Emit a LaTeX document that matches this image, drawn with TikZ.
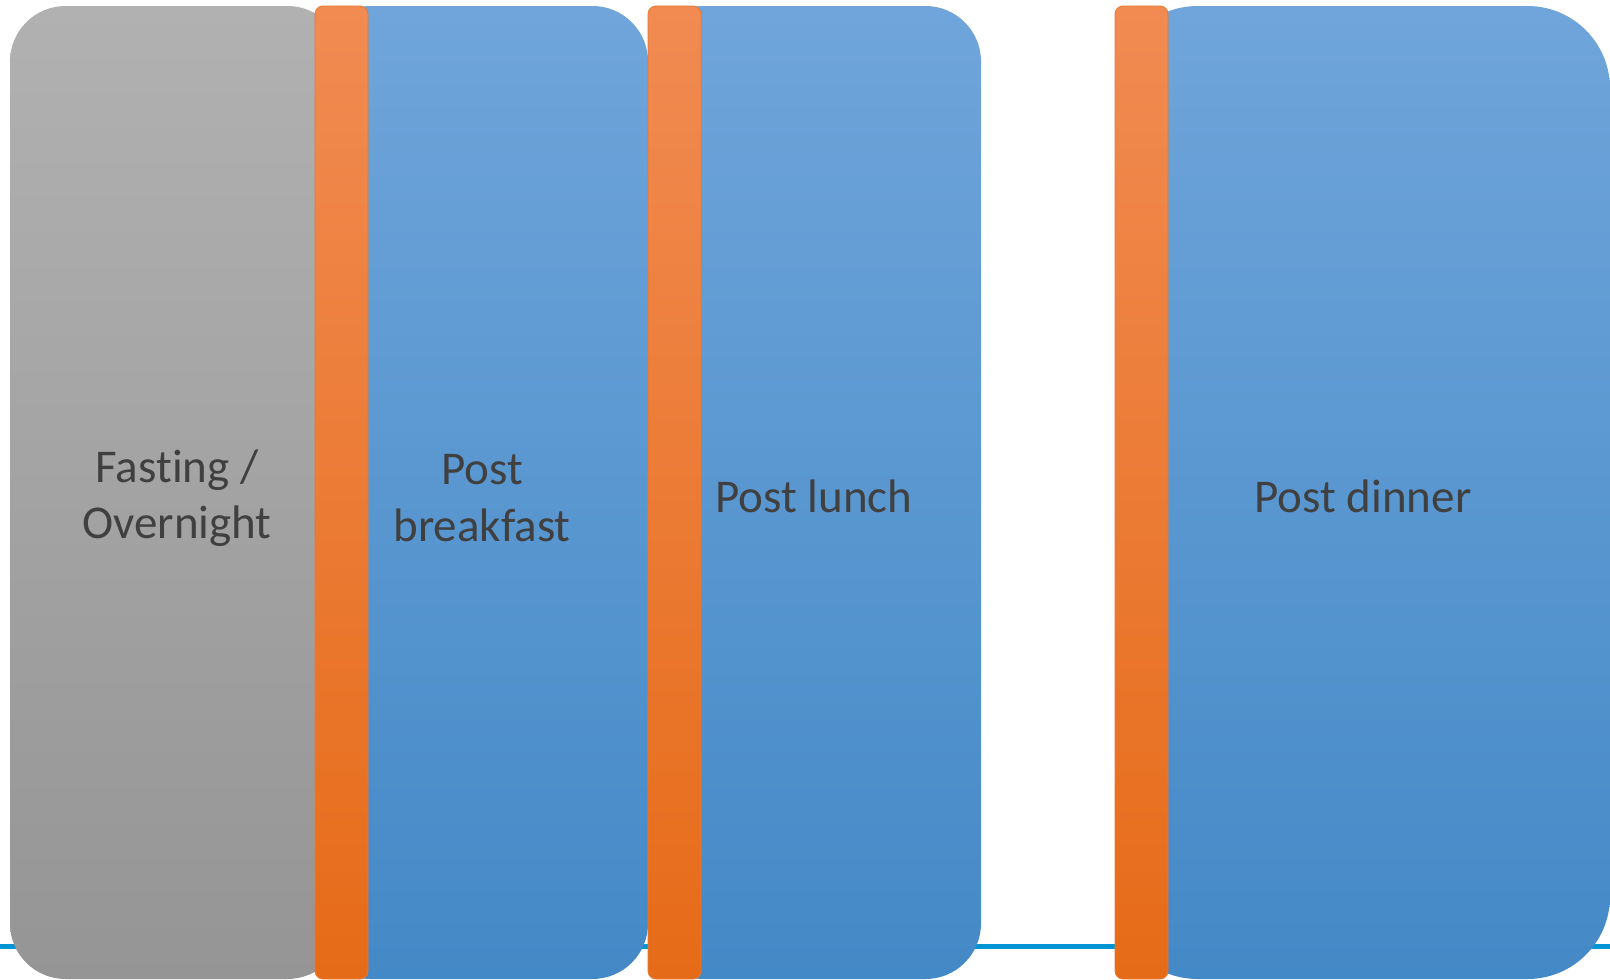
\documentclass[tikz,border=0pt]{standalone}
\usepackage{fontspec}
\setmainfont{Carlito}[Ligatures={NoCommon}]
\definecolor{graytop}{RGB}{177,177,177}
\definecolor{graybot}{RGB}{149,149,149}
\definecolor{bluetop}{RGB}{111,165,218}
\definecolor{bluebot}{RGB}{68,137,199}
\definecolor{orangetop}{RGB}{241,139,82}
\definecolor{orangebot}{RGB}{230,107,24}
\definecolor{orangeedge}{RGB}{232,120,50}
\definecolor{lineblue}{RGB}{0,150,214}
\definecolor{txt}{RGB}{64,64,64}
\tikzset{
  graybox/.style={top color=graytop, bottom color=graybot, draw=none},
  bluebox/.style={top color=bluetop, bottom color=bluebot, draw=none},
  orangebar/.style={top color=orangetop, bottom color=orangebot, draw=orangeedge, line width=0.8pt, rounded corners=8pt},
  label/.style={text=txt, font=\fontsize{47}{56.5}\selectfont, align=center, inner sep=0pt},
}
\begin{document}
\begin{tikzpicture}[x=1pt,y=-1pt]
\useasboundingbox (0,0) rectangle (1610,980);
% baseline
\coordinate (lineL) at (0,946.5);
\coordinate (lineR) at (1610,946.5);
\draw[lineblue, line width=4.5pt] (lineL) -- (lineR);
% boxes
\path[graybox, rounded corners=55.5pt] (10,6) rectangle (343,979);
\path[bluebox, rounded corners=55.5pt] (315,6) rectangle (648,979);
\path[bluebox, rounded corners=55.5pt] (648,6) rectangle (981,979);
\path[bluebox, rounded corners=82.5pt] (1115,6) rectangle (1610,979);
% orange bars
\path[orangebar] (315,6) rectangle (368,979);
\path[orangebar] (648,6) rectangle (701,979);
\path[orangebar] (1115,6) rectangle (1168,979);
% labels
\node[label] (fasting) at (177,498) {Fasting /\\Overnight};
\node[label] (breakfast) at (482,498) {Post\\breakfast};
\node[label] (lunch) at (814,496) {Post lunch};
\node[label] (dinner) at (1363,496) {Post dinner};
\end{tikzpicture}
\end{document}
